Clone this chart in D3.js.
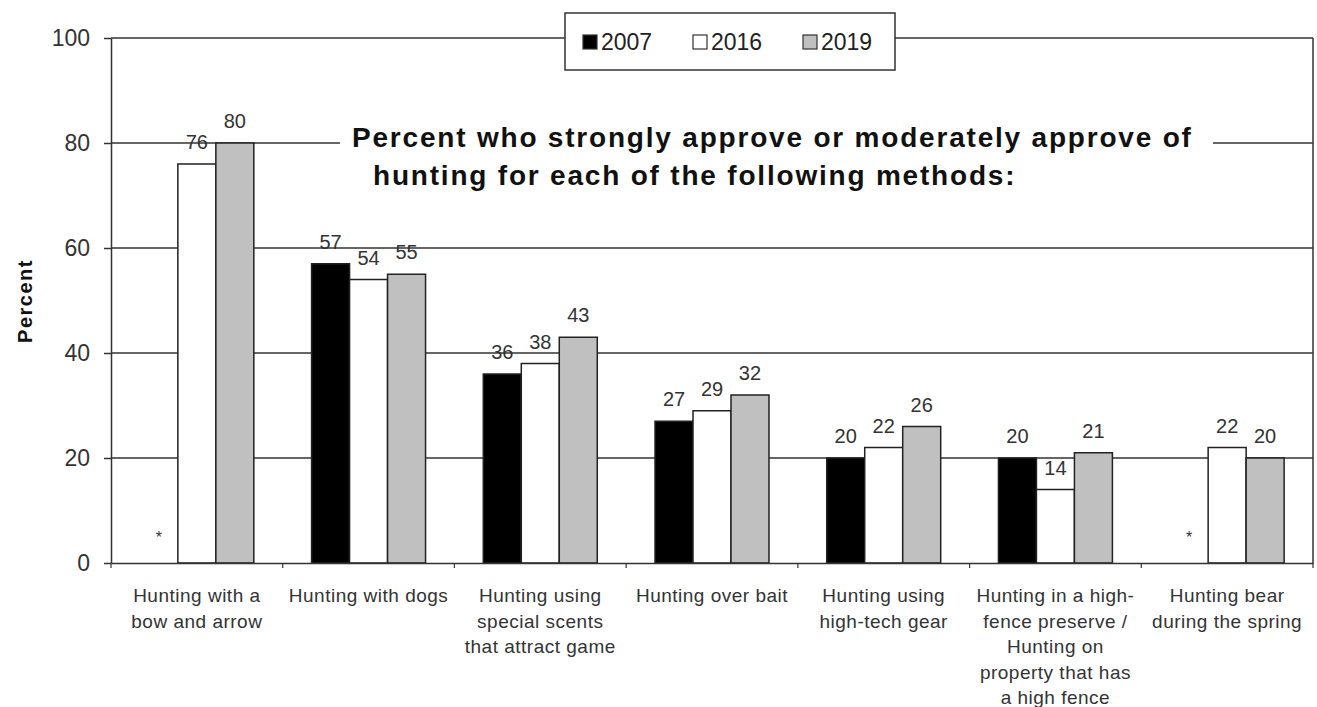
<!DOCTYPE html>
<html>
<head>
<meta charset="utf-8">
<script src="https://cdn.jsdelivr.net/npm/d3@7"></script>
<style>
  body { margin: 0; background: #fff; }
  text { font-family: "Liberation Sans", Arial, sans-serif; }
</style>
</head>
<body>
<div id="chart"></div>
<script>
const categories = [
  ["Hunting with a", "bow and arrow"],
  ["Hunting with dogs"],
  ["Hunting using", "special scents", "that attract game"],
  ["Hunting over bait"],
  ["Hunting using", "high-tech gear"],
  ["Hunting in a high-", "fence preserve /", "Hunting on", "property that has", "a high fence"],
  ["Hunting bear", "during the spring"]
];
const seriesNames = ["2007", "2016", "2019"];
const values2007 = [null, 57, 36, 27, 20, 20, null];
const values2016 = [76, 54, 38, 29, 22, 14, 22];
const values2019 = [80, 55, 43, 32, 26, 21, 20];
const yTicks = [0, 20, 40, 60, 80, 100];
const titleLines = ["Percent who strongly approve or moderately approve of",
                    "hunting for each of the following methods:"];

const colors = {"2007": "#000000", "2016": "#ffffff", "2019": "#c0c0c0"};
const seriesValues = [values2007, values2016, values2019];

const W = 1317, H = 707;
const plot = {left: 111, right: 1313, top: 38, bottom: 563};

const svg = d3.select("#chart").append("svg")
  .attr("width", W).attr("height", H);

const catIdx = categories.map((d, i) => i);
const x0 = d3.scaleBand().domain(catIdx).range([plot.left, plot.right]);
const x1 = d3.scaleBand().domain(seriesNames)
  .range([0, x0.bandwidth()]).paddingInner(0).paddingOuter(0.76);
const y = d3.scaleLinear().domain([0, 100]).range([plot.bottom, plot.top]);

// gridlines
svg.append("g").selectAll("line")
  .data(yTicks.filter(d => d > 0))
  .enter().append("line")
  .attr("x1", plot.left).attr("x2", plot.right)
  .attr("y1", d => y(d)).attr("y2", d => y(d))
  .attr("stroke", "#333").attr("stroke-width", 1.5);

// right border
svg.append("line")
  .attr("x1", plot.right).attr("x2", plot.right).attr("y1", plot.top).attr("y2", plot.bottom)
  .attr("stroke", "#333").attr("stroke-width", 1.5);

// title, white box hides the 80 gridline behind it
const title = svg.append("g");
title.append("rect")
  .attr("x", 340).attr("y", 120).attr("width", 873).attr("height", 82)
  .attr("fill", "#fff");
const titleX = [352, 373];
title.selectAll("text")
  .data(titleLines)
  .enter().append("text")
  .attr("x", (d, i) => titleX[i]).attr("y", (d, i) => 147 + i * 38)
  .style("font-size", "28px").style("font-weight", "bold").style("fill", "#111")
  .style("letter-spacing", "1.8px")
  .text(d => d);

// bars
const rows = [];
seriesNames.forEach((s, si) => {
  seriesValues[si].forEach((v, ci) => rows.push({s, ci, v}));
});

svg.append("g").selectAll("rect")
  .data(rows.filter(d => d.v != null))
  .enter().append("rect")
  .attr("x", d => x0(d.ci) + x1(d.s))
  .attr("y", d => y(d.v))
  .attr("width", x1.bandwidth())
  .attr("height", d => y(0) - y(d.v))
  .attr("fill", d => colors[d.s])
  .attr("stroke", "#222").attr("stroke-width", 1.5);

svg.append("g").selectAll("text")
  .data(rows.filter(d => d.v != null))
  .enter().append("text")
  .attr("x", d => x0(d.ci) + x1(d.s) + x1.bandwidth() / 2)
  .attr("y", d => y(d.v) - 15)
  .attr("text-anchor", "middle")
  .style("font-size", "20px").style("fill", "#333")
  .text(d => d.v);

// missing 2007 marker
svg.append("g").selectAll("text")
  .data(rows.filter(d => d.v == null))
  .enter().append("text")
  .attr("x", d => x0(d.ci) + x1(d.s) + x1.bandwidth() / 2)
  .attr("y", y(0) - 20)
  .attr("text-anchor", "middle")
  .style("font-size", "16px").style("fill", "#333")
  .text("*");

// y axis
const yAxis = svg.append("g")
  .attr("transform", `translate(${plot.left},0)`)
  .call(d3.axisLeft(y).tickValues(yTicks).tickSize(7).tickSizeOuter(0).tickPadding(14));
yAxis.select(".domain").attr("stroke", "#333").attr("stroke-width", 1.5);
yAxis.selectAll(".tick line").attr("stroke", "#333").attr("stroke-width", 1.5);
yAxis.selectAll(".tick text")
  .style("font-size", "23px").style("fill", "#333")
  .style("font-family", "'Liberation Sans', Arial, sans-serif");

svg.append("text")
  .attr("transform", "translate(32,301) rotate(-90)")
  .attr("text-anchor", "middle")
  .style("font-size", "20px").style("font-weight", "bold").style("fill", "#111")
  .style("letter-spacing", "1.5px")
  .text("Percent");

// x axis
const xAxis = svg.append("g")
  .attr("transform", `translate(0,${plot.bottom})`)
  .call(d3.axisBottom(x0).tickValues([]).tickSizeOuter(0));
xAxis.select(".domain").attr("stroke", "#333").attr("stroke-width", 1.5);
xAxis.selectAll(".sep")
  .data(d3.range(categories.length + 1))
  .enter().append("line")
  .attr("x1", i => plot.left + i * x0.step()).attr("x2", i => plot.left + i * x0.step())
  .attr("y1", 0).attr("y2", 5)
  .attr("stroke", "#333").attr("stroke-width", 1.2);

const xl = svg.append("g").selectAll("text")
  .data(categories)
  .enter().append("text")
  .attr("x", (d, i) => x0(i) + x0.bandwidth() / 2)
  .attr("y", 602)
  .attr("text-anchor", "middle")
  .style("font-size", "19px").style("fill", "#333")
  .style("letter-spacing", "0.5px");
xl.selectAll("tspan")
  .data(d => d)
  .enter().append("tspan")
  .attr("x", function() { return d3.select(this.parentNode).attr("x"); })
  .attr("dy", (d, i) => i === 0 ? 0 : 25.5)
  .text(d => d);

// legend
const lg = svg.append("g").attr("transform", "translate(565,13)");
lg.append("rect").attr("width", 330).attr("height", 57)
  .attr("fill", "#fff").attr("stroke", "#333").attr("stroke-width", 1.5);
const itemX = [18, 128, 238];
const items = lg.selectAll(".item").data(seriesNames).enter().append("g")
  .attr("transform", (d, i) => `translate(${itemX[i]},22)`);
items.append("rect").attr("width", 14).attr("height", 14)
  .attr("fill", d => colors[d]).attr("stroke", "#333").attr("stroke-width", 1.2);
items.append("text").attr("x", 18).attr("y", 15)
  .style("font-size", "23px").style("fill", "#222")
  .text(d => d);
</script>
</body>
</html>
